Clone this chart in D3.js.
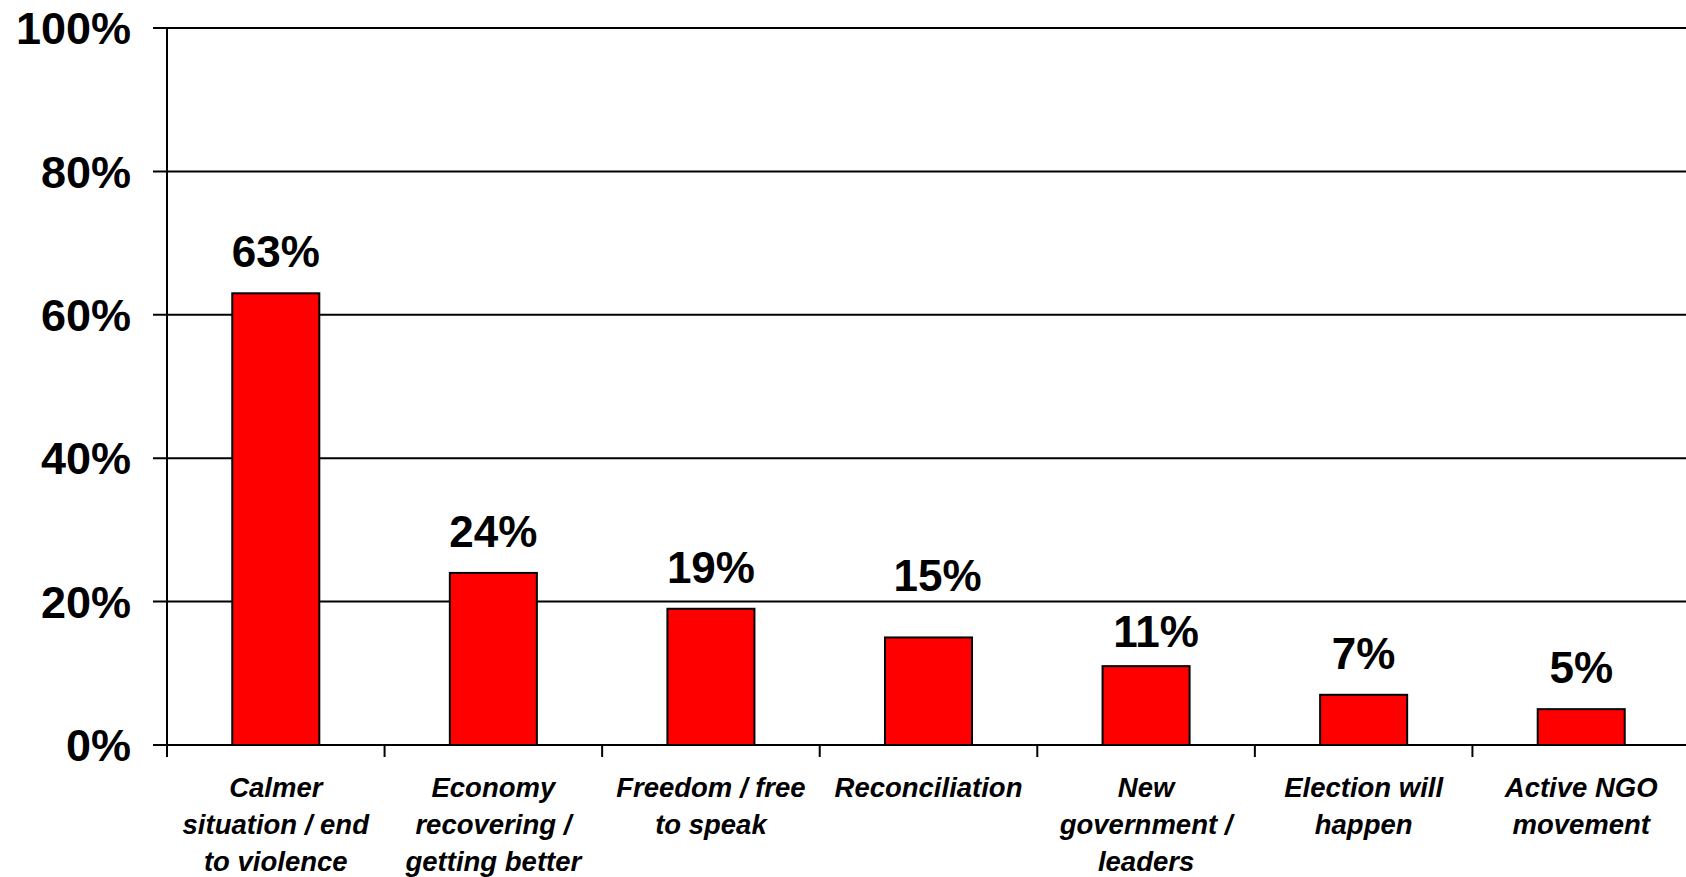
<!DOCTYPE html>
<html>
<head>
<meta charset="utf-8">
<script src="https://cdn.jsdelivr.net/npm/d3@7"></script>
<style>
  html, body { margin: 0; padding: 0; background: #fff; overflow: hidden; }
  svg { display: block; font-family: "Liberation Sans", Arial, sans-serif; }
</style>
</head>
<body>
<svg id="chart" width="1686" height="877"></svg>
<script>
const categories = [
  "Calmer\nsituation / end\nto violence",
  "Economy\nrecovering /\ngetting better",
  "Freedom / free\nto speak",
  "Reconciliation",
  "New\ngovernment /\nleaders",
  "Election will\nhappen",
  "Active NGO\nmovement"
];
const values = [63, 24, 19, 15, 11, 7, 5];
const yTicks = [0, 20, 40, 60, 80, 100];

(function () {
const svg = d3.select("#chart");
const mLeft = 167, mRight = 1690, mTop = 28, mBottom = 745;
// manual label nudges seen in the original (dx, extra gap above bar)
const labelNudge = { 3: [9, 46], 4: [10, 19] };

const x = d3.scaleBand().domain(d3.range(categories.length)).range([mLeft, mRight]).paddingInner(0).paddingOuter(0);
const y = d3.scaleLinear().domain([0, 100]).range([mBottom, mTop]);
const barW = x.bandwidth() * 0.40;

// gridlines (including 0 axis)
svg.append("g").selectAll("line").data(yTicks).join("line")
  .attr("x1", mLeft - 14).attr("x2", 1686)
  .attr("y1", d => y(d)).attr("y2", d => y(d))
  .attr("stroke", "#000").attr("stroke-width", 2);

// y axis line
svg.append("line").attr("x1", mLeft).attr("x2", mLeft).attr("y1", mTop).attr("y2", mBottom + 12)
  .attr("stroke", "#000").attr("stroke-width", 2);

// y tick labels
svg.append("g").selectAll("text").data(yTicks).join("text")
  .attr("x", 131).attr("y", d => y(d)).attr("dy", "0.36em")
  .attr("text-anchor", "end").attr("font-size", 45).attr("font-weight", "bold")
  .text(d => d + "%");

// x ticks at category boundaries
const bounds = d3.range(1, categories.length).map(i => x(i));
svg.append("g").selectAll("line").data(bounds).join("line")
  .attr("x1", d => d).attr("x2", d => d).attr("y1", mBottom).attr("y2", mBottom + 12)
  .attr("stroke", "#000").attr("stroke-width", 2);

// bars
svg.append("g").selectAll("rect").data(values).join("rect")
  .attr("x", (d, i) => x(i) + x.bandwidth() / 2 - barW / 2)
  .attr("width", barW)
  .attr("y", d => y(d))
  .attr("height", d => mBottom - y(d))
  .attr("fill", "#ff0000").attr("stroke", "#000").attr("stroke-width", 2);

// value labels
svg.append("g").selectAll("text").data(values).join("text")
  .attr("x", (d, i) => x(i) + x.bandwidth() / 2 + (labelNudge[i] ? labelNudge[i][0] : 0))
  .attr("y", (d, i) => y(d) - (labelNudge[i] ? labelNudge[i][1] : 26))
  .attr("text-anchor", "middle").attr("font-size", 44).attr("font-weight", "bold")
  .text(d => d + "%");

// category labels
const cl = svg.append("g").selectAll("text").data(categories).join("text")
  .attr("x", (d, i) => x(i) + x.bandwidth() / 2)
  .attr("y", 797)
  .attr("text-anchor", "middle").attr("font-size", 27.5).attr("font-weight", "bold").attr("font-style", "italic");
cl.each(function(d) {
  const t = d3.select(this);
  const cx = t.attr("x");
  d.split("\n").forEach((line, j) => {
    t.append("tspan").attr("x", cx).attr("dy", j === 0 ? 0 : 37).text(line);
  });
});
})();
</script>
</body>
</html>
